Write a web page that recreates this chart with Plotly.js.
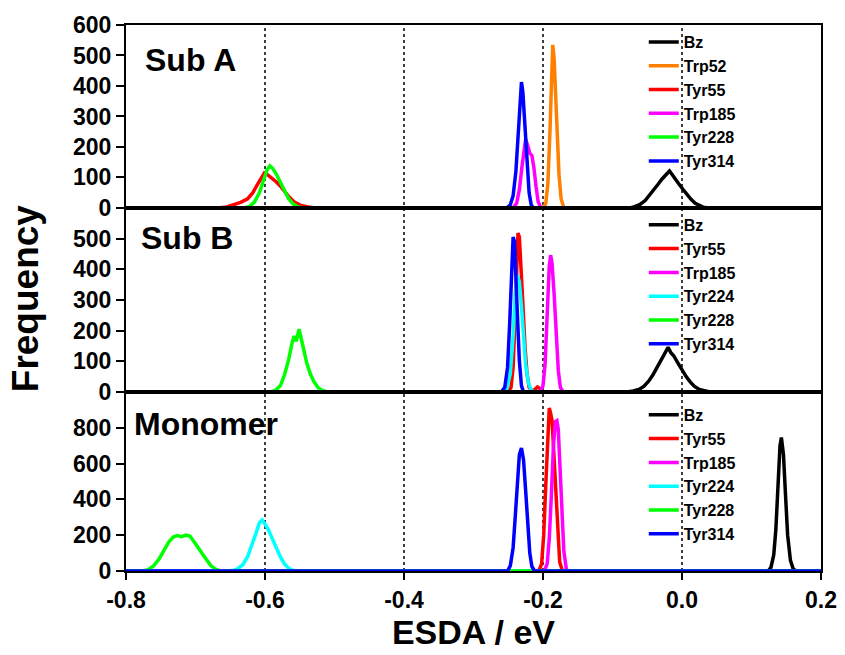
<!DOCTYPE html>
<html>
<head>
<meta charset="utf-8">
<script src="https://cdn.plot.ly/plotly-3.0.1.min.js"></script>
<style>html,body{margin:0;padding:0;background:#fff;}</style>
</head>
<body>
<div id="chart" style="width:845px;height:655px;"></div>
<script>
// ---------- Panel labels / axis texts ----------
const panelLabels = ["Sub A", "Sub B", "Monomer"];
const xTitle = "ESDA / eV";
const yTitle = "Frequency";
const xTickVals = [-0.8, -0.6, -0.4, -0.2, 0.0, 0.2];
const xTickText = ["-0.8", "-0.6", "-0.4", "-0.2", "0.0", "0.2"];
const yTickValsA = [0, 100, 200, 300, 400, 500, 600];
const yTickValsB = [0, 100, 200, 300, 400, 500];
const yTickValsM = [0, 200, 400, 600, 800];
const refLines = [-0.6, -0.4, -0.2, 0.0];

// ---------- Sub A ----------
const subA_names = ["Bz", "Trp52", "Tyr55", "Trp185", "Tyr228", "Tyr314"];
const subA_Bz_x = [-0.8, -0.075, -0.068, -0.060, -0.053, -0.047, -0.041, -0.035, -0.029, -0.023, -0.018, -0.015, -0.011, -0.005, 0.001, 0.007, 0.013, 0.019, 0.025, 0.031, 0.038, 0.2];
const subA_Bz_y = [0, 0, 4, 12, 24, 40, 58, 76, 94, 108, 121, 112, 98, 80, 62, 44, 28, 15, 7, 2, 0, 0];
const subA_Trp52_x = [-0.8, -0.200, -0.196, -0.193, -0.190, -0.188, -0.186, -0.184, -0.182, -0.180, -0.177, -0.174, -0.170, 0.2];
const subA_Trp52_y = [0, 0, 15, 80, 250, 420, 535, 490, 380, 250, 110, 30, 0, 0];
const subA_Tyr55_x = [-0.8, -0.668, -0.655, -0.645, -0.635, -0.625, -0.618, -0.612, -0.606, -0.601, -0.596, -0.590, -0.584, -0.578, -0.572, -0.565, -0.557, -0.548, -0.538, -0.528, 0.2];
const subA_Tyr55_y = [0, 0, 3, 10, 18, 30, 48, 72, 98, 114, 108, 98, 86, 72, 54, 35, 18, 8, 3, 0, 0];
const subA_Trp185_x = [-0.8, -0.243, -0.238, -0.234, -0.230, -0.227, -0.225, -0.222, -0.219, -0.216, -0.213, -0.210, -0.207, -0.203, 0.2];
const subA_Trp185_y = [0, 0, 15, 60, 140, 205, 225, 205, 180, 172, 130, 70, 20, 0, 0];
const subA_Tyr228_x = [-0.8, -0.630, -0.622, -0.615, -0.608, -0.602, -0.597, -0.593, -0.589, -0.584, -0.578, -0.572, -0.566, -0.560, -0.553, -0.545, 0.2];
const subA_Tyr228_y = [0, 0, 5, 20, 50, 90, 125, 138, 130, 112, 85, 55, 30, 14, 4, 0, 0];
const subA_Tyr314_x = [-0.8, -0.252, -0.247, -0.243, -0.239, -0.236, -0.233, -0.231, -0.229, -0.226, -0.223, -0.220, -0.217, -0.214, 0.2];
const subA_Tyr314_y = [0, 0, 10, 40, 120, 250, 380, 413, 380, 260, 140, 50, 10, 0, 0];

// ---------- Sub B ----------
const subB_names = ["Bz", "Tyr55", "Trp185", "Tyr224", "Tyr228", "Tyr314"];
const subB_Bz_x = [-0.8, -0.080, -0.070, -0.062, -0.055, -0.048, -0.042, -0.036, -0.030, -0.025, -0.020, -0.016, -0.012, -0.006, 0.000, 0.006, 0.012, 0.018, 0.025, 0.032, 0.040, 0.2];
const subB_Bz_y = [0, 0, 3, 8, 18, 35, 55, 80, 105, 125, 145, 128, 118, 95, 72, 50, 32, 18, 8, 3, 0, 0];
const subB_Tyr55_x = [-0.8, -0.250, -0.246, -0.243, -0.240, -0.238, -0.236, -0.234, -0.232, -0.229, -0.226, -0.223, -0.220, -0.216, -0.212, -0.208, -0.204, -0.200, 0.2];
const subB_Tyr55_y = [0, 0, 15, 80, 250, 430, 518, 505, 430, 290, 150, 60, 15, 3, 8, 16, 10, 0, 0];
const subB_Trp185_x = [-0.8, -0.204, -0.200, -0.197, -0.194, -0.191, -0.189, -0.187, -0.184, -0.181, -0.178, -0.175, -0.171, 0.2];
const subB_Trp185_y = [0, 0, 20, 90, 250, 410, 446, 420, 320, 180, 70, 15, 0, 0];
const subB_Tyr224_x = [-0.8, -0.258, -0.252, -0.247, -0.243, -0.240, -0.237, -0.234, -0.231, -0.228, -0.225, -0.221, -0.217, -0.212, 0.2];
const subB_Tyr224_y = [0, 0, 10, 60, 180, 320, 380, 360, 280, 180, 90, 30, 5, 0, 0];
const subB_Tyr228_x = [-0.8, -0.592, -0.585, -0.578, -0.572, -0.566, -0.561, -0.558, -0.555, -0.551, -0.548, -0.544, -0.540, -0.535, -0.530, -0.524, -0.518, -0.510, 0.2];
const subB_Tyr228_y = [0, 0, 5, 20, 55, 105, 160, 182, 165, 205, 175, 135, 95, 60, 35, 15, 5, 0, 0];
const subB_Tyr314_x = [-0.8, -0.260, -0.255, -0.251, -0.248, -0.245, -0.243, -0.241, -0.239, -0.237, -0.234, -0.231, -0.228, 0.2];
const subB_Tyr314_y = [0, 0, 15, 80, 220, 420, 505, 490, 400, 260, 100, 20, 0, 0];

// ---------- Monomer ----------
const mono_names = ["Bz", "Tyr55", "Trp185", "Tyr224", "Tyr228", "Tyr314"];
const mono_Bz_x = [-0.8, 0.124, 0.128, 0.132, 0.135, 0.138, 0.141, 0.143, 0.146, 0.149, 0.152, 0.156, 0.160, 0.164, 0.2];
const mono_Bz_y = [0, 0, 20, 90, 230, 450, 700, 745, 650, 420, 200, 60, 12, 0, 0];
const mono_Tyr55_x = [-0.8, -0.206, -0.202, -0.199, -0.196, -0.193, -0.191, -0.189, -0.187, -0.185, -0.182, -0.179, -0.176, -0.172, 0.2];
const mono_Tyr55_y = [0, 0, 40, 200, 480, 800, 910, 880, 840, 700, 450, 200, 50, 0, 0];
const mono_Trp185_x = [-0.8, -0.198, -0.194, -0.191, -0.188, -0.185, -0.182, -0.180, -0.178, -0.176, -0.173, -0.170, -0.166, 0.2];
const mono_Trp185_y = [0, 0, 40, 180, 420, 700, 835, 840, 790, 620, 330, 110, 0, 0];
const mono_Tyr224_x = [-0.8, -0.648, -0.640, -0.632, -0.625, -0.619, -0.613, -0.608, -0.604, -0.600, -0.595, -0.590, -0.584, -0.578, -0.572, -0.566, -0.558, 0.2];
const mono_Tyr224_y = [0, 0, 10, 35, 80, 140, 210, 270, 285, 262, 230, 185, 130, 80, 40, 15, 0, 0];
const mono_Tyr228_x = [-0.8, -0.775, -0.768, -0.760, -0.752, -0.745, -0.738, -0.732, -0.726, -0.720, -0.714, -0.708, -0.702, -0.696, -0.690, -0.684, -0.678, -0.672, -0.665, 0.2];
const mono_Tyr228_y = [0, 0, 8, 30, 70, 120, 165, 190, 198, 192, 200, 195, 165, 130, 95, 60, 30, 12, 0, 0];
const mono_Tyr314_x = [-0.8, -0.251, -0.247, -0.243, -0.240, -0.237, -0.234, -0.231, -0.228, -0.225, -0.222, -0.219, -0.216, -0.212, 0.2];
const mono_Tyr314_y = [0, 0, 30, 130, 300, 500, 650, 687, 620, 450, 250, 100, 25, 0, 0];

// ---------- colours ----------
const colorOf = {
  "Bz": "#000000", "Trp52": "#FF8000", "Tyr55": "#FF0000", "Trp185": "#FF00FF",
  "Tyr224": "#00FFFF", "Tyr228": "#00FF00", "Tyr314": "#0000FF"
};

const FONT = "Arial, 'Liberation Sans', sans-serif";

function mk(name, x, y, xa, ya, leg) {
  return {
    type: "scatter", mode: "lines", name: name, x: x, y: y,
    xaxis: xa, yaxis: ya, legend: leg,
    line: { color: colorOf[name], width: 3.5 },
    hoverinfo: "skip"
  };
}

const traces = [
  mk("Bz", subA_Bz_x, subA_Bz_y, "x", "y", "legend"),
  mk("Trp52", subA_Trp52_x, subA_Trp52_y, "x", "y", "legend"),
  mk("Tyr55", subA_Tyr55_x, subA_Tyr55_y, "x", "y", "legend"),
  mk("Trp185", subA_Trp185_x, subA_Trp185_y, "x", "y", "legend"),
  mk("Tyr228", subA_Tyr228_x, subA_Tyr228_y, "x", "y", "legend"),
  mk("Tyr314", subA_Tyr314_x, subA_Tyr314_y, "x", "y", "legend"),

  mk("Bz", subB_Bz_x, subB_Bz_y, "x2", "y2", "legend2"),
  mk("Tyr55", subB_Tyr55_x, subB_Tyr55_y, "x2", "y2", "legend2"),
  mk("Trp185", subB_Trp185_x, subB_Trp185_y, "x2", "y2", "legend2"),
  mk("Tyr224", subB_Tyr224_x, subB_Tyr224_y, "x2", "y2", "legend2"),
  mk("Tyr228", subB_Tyr228_x, subB_Tyr228_y, "x2", "y2", "legend2"),
  mk("Tyr314", subB_Tyr314_x, subB_Tyr314_y, "x2", "y2", "legend2"),

  mk("Bz", mono_Bz_x, mono_Bz_y, "x3", "y3", "legend3"),
  mk("Tyr55", mono_Tyr55_x, mono_Tyr55_y, "x3", "y3", "legend3"),
  mk("Trp185", mono_Trp185_x, mono_Trp185_y, "x3", "y3", "legend3"),
  mk("Tyr224", mono_Tyr224_x, mono_Tyr224_y, "x3", "y3", "legend3"),
  mk("Tyr228", mono_Tyr228_x, mono_Tyr228_y, "x3", "y3", "legend3"),
  mk("Tyr314", mono_Tyr314_x, mono_Tyr314_y, "x3", "y3", "legend3")
];

const tickFont = { family: FONT, size: 23, color: "#000", weight: 700 };
const legFont = { family: FONT, size: 16, color: "#000", weight: 700 };

function xax(anchor, showLabels) {
  const a = {
    anchor: anchor, domain: [0, 1], range: [-0.8, 0.2],
    showgrid: false, zeroline: false,
    showline: true, mirror: true, linecolor: "#000", linewidth: 2,
    ticks: showLabels ? "outside" : "", ticklen: 7, tickwidth: 2, tickcolor: "#000",
    tickvals: xTickVals, ticktext: xTickText,
    showticklabels: showLabels, tickfont: tickFont
  };
  if (showLabels) {
    a.title = { text: xTitle, font: { family: FONT, size: 34, color: "#000", weight: 700 }, standoff: 8 };
  } else {
    a.matches = "x3";
  }
  return a;
}
function yax(domain, range, tv) {
  return {
    anchor: "x", domain: domain, range: range, tickvals: tv,
    showgrid: false, zeroline: false,
    showline: true, mirror: true, linecolor: "#000", linewidth: 2,
    ticks: "outside", ticklen: 8, tickwidth: 2, tickcolor: "#000",
    tickfont: tickFont
  };
}

const shapes = refLines.map(v => ({
  type: "line", xref: "x3", yref: "paper", x0: v, x1: v, y0: 0, y1: 1,
  line: { color: "#000", width: 1.5, dash: "dot" }, layer: "below"
}));

function legendCfg(y) {
  return {
    x: 0.745, y: y, xanchor: "left", yanchor: "top",
    bgcolor: "rgba(0,0,0,0)", borderwidth: 0, font: legFont,
    traceorder: "normal", itemwidth: 30
  };
}

const layout = {
  width: 845, height: 655,
  margin: { l: 126, r: 24, t: 25, b: 84 },
  paper_bgcolor: "#fff", plot_bgcolor: "#fff",
  font: { family: FONT, color: "#000" },
  xaxis: xax("y", false),
  xaxis2: xax("y2", false),
  xaxis3: xax("y3", true),
  yaxis: yax([0.665, 1], [0, 600], yTickValsA),
  yaxis2: Object.assign(yax([0.328, 0.665], [0, 600], yTickValsB), { anchor: "x2" }),
  yaxis3: Object.assign(yax([0, 0.328], [0, 1000], yTickValsM), { anchor: "x3" }),
  showlegend: true,
  legend: legendCfg(1.0),
  legend2: legendCfg(0.665),
  legend3: legendCfg(0.317),
  shapes: shapes,
  annotations: [
    { text: panelLabels[0], xref: "paper", yref: "paper", x: 0.024, y: 0.936, xanchor: "left", yanchor: "middle", showarrow: false, font: { family: FONT, size: 32, color: "#000", weight: 700 } },
    { text: panelLabels[1], xref: "paper", yref: "paper", x: 0.018, y: 0.61, xanchor: "left", yanchor: "middle", showarrow: false, font: { family: FONT, size: 32, color: "#000", weight: 700 } },
    { text: panelLabels[2], xref: "paper", yref: "paper", x: 0.008, y: 0.27, xanchor: "left", yanchor: "middle", showarrow: false, font: { family: FONT, size: 32, color: "#000", weight: 700 } },
    { text: yTitle, xref: "paper", yref: "paper", x: -0.145, y: 0.5, xanchor: "center", yanchor: "middle", textangle: -90, showarrow: false, font: { family: FONT, size: 37, color: "#000", weight: 700 } }
  ]
};

Plotly.newPlot("chart", traces, layout, { displayModeBar: false, staticPlot: true });
</script>
</body>
</html>
